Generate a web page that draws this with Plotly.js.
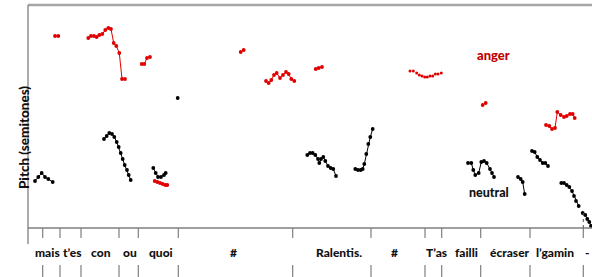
<!DOCTYPE html>
<html>
<head>
<meta charset="utf-8">
<script src="https://cdn.plot.ly/plotly-3.0.1.min.js"></script>
<style>html,body{margin:0;padding:0;background:#fff;}#chart{width:592px;height:277px;}</style>
</head>
<body>
<div id="chart"></div>
<script>
// Time (arbitrary units) and pitch (semitones); null separates voiced stretches
var angerT = [27,30.3,null,
  60.3,63,66,68.7,71.3,74.3,77.3,80.3,83,85.7,88.3,91.3,94,97,null,
  113.7,116.3,119,122,null,
  126.7,129.3,132,134.7,137.3,139.3,null,
  212.7,215.7,null,
  238,240.7,243.3,246,248.7,252,255,258,260.7,263.3,266.3,null,
  287.7,290.7,294,null,
  454.7,457.7,null,
  518,521.3,524,527,529.3,532.7,536,538.7,542,544.7,546.7];
var angerF = [19.2,19.2,null,
  19.0,19.2,19.2,19.1,19.3,19.4,19.8,20.0,19.9,18.5,18.2,17.5,14.9,14.9,null,
  16.4,16.4,17.0,17.1,null,
  4.7,4.6,4.5,4.4,4.3,4.3,null,
  17.6,17.8,null,
  14.7,14.5,14.8,15.3,15.5,15.0,15.3,15.6,15.4,14.9,14.7,null,
  15.9,16.0,16.1,null,
  12.3,12.5,null,
  10.3,10.2,9.9,10.0,11.6,11.3,11.1,11.2,11.4,11.4,11.0];
var angerDotT = [382,385.3,388.7,391.3,394,396.7,399.3,402,404.7,407.3,410,413.3];
var angerDotF = [15.7,15.7,15.5,15.3,15.2,15.1,15.1,15.2,15.2,15.4,15.4,15.5];

var neutralT = [7,10.3,13.7,17,20.3,24.7,null,
  76,78.7,81.3,84,86.3,88.7,90.7,92.7,94.7,96.7,99,100.7,102.7,null,
  125.3,127.7,130,133,136,137.7,null,
  149.7,null,
  279.3,282,284.7,287.3,290,291.3,293,295.3,297.3,300,302.7,305.3,308,null,
  327.3,330,332.7,334.7,336.3,338.3,340.3,342.3,344.7,null,
  440,443.3,445.3,447.3,450.7,453.3,456,458.7,462,464,466,null,
  490,492.7,494.7,496.7,null,
  504,506.7,509.3,512,514.7,517.3,520,null,
  533.3,536,538.7,541.3,544,546,548,550.7,null,
  554.7,557.3,559.3,561.3,563];
var neutralF = [4.7,5.1,5.5,5.1,4.9,4.6,null,
  8.9,9.2,9.5,9.4,9.1,8.6,8.1,7.5,6.9,6.3,5.8,5.3,4.8,null,
  6.0,5.5,5.1,5.1,5.3,5.5,null,
  13.0,null,
  7.3,7.5,7.5,7.3,6.9,6.5,6.9,7.1,6.7,6.2,6.0,5.9,5.2,null,
  5.9,5.8,5.8,5.9,6.4,7.4,8.4,9.1,9.9,null,
  6.5,6.5,5.8,5.3,5.5,6.6,6.7,6.5,5.9,5.5,5.1,null,
  5.1,4.9,4.6,3.4,null,
  7.7,7.6,7.1,6.8,6.5,6.5,6.2,null,
  4.5,4.5,4.3,4.1,3.7,3.2,2.7,2.2,null,
  1.5,1.3,0.9,0.6,0.2];

// Word boundaries and word labels
var boundaries = [14.7,32,53,91,110.3,150.3,264.7,343,397,413.7,452.7,502,555.3];
var words = ["mais","t\u2019es","con","ou","quoi","#","Ralentis.","#","T\u2019as","failli","\u00e9craser","l\u2019gamin","-"];
var wordPos = [19,44,73,102,133,205,311,366,408,438,482,527,559];

var RED = '#e00000';
var traces = [
  {x: angerT, y: angerF, mode: 'lines+markers', connectgaps: false,
   line: {color: RED, width: 1}, marker: {color: RED, size: 3.8}, hoverinfo: 'skip'},
  {x: angerDotT, y: angerDotF, mode: 'markers',
   marker: {color: RED, size: 3}, hoverinfo: 'skip'},
  {x: neutralT, y: neutralF, mode: 'lines+markers', connectgaps: false,
   line: {color: '#000', width: 1}, marker: {color: '#000', size: 3.8}, hoverinfo: 'skip'}
];

var H = 222; // plot height px
var shapes = [];
shapes.push({type: 'line', xref: 'paper', yref: 'paper', x0: 0, x1: 1.01, y0: 1.004, y1: 1.004,
  line: {color: '#a6a6a6', width: 2.5}});
shapes.push({type: 'line', xref: 'paper', yref: 'paper', x0: 0, x1: 0, y0: 1.004, y1: -16/H,
  line: {color: '#7f7f7f', width: 1.3}});
shapes.push({type: 'line', xref: 'paper', yref: 'paper', x0: 0, x1: 1.01, y0: 0, y1: 0,
  line: {color: '#7f7f7f', width: 1.3}});
boundaries.forEach(function (b) {
  shapes.push({type: 'line', xref: 'x', yref: 'paper', x0: b, x1: b, y0: 0, y1: -10/H,
    line: {color: '#7f7f7f', width: 1.2}});
  shapes.push({type: 'line', xref: 'x', yref: 'paper', x0: b, x1: b, y0: -37/H, y1: -50/H,
    line: {color: '#7f7f7f', width: 1.2}});
});
shapes.push({type: 'line', xref: 'x', yref: 'paper', x0: boundaries[12], x1: boundaries[12], y0: 0, y1: 16/H,
  line: {color: '#555', width: 1, dash: 'dot'}});

var FONT = 'Lato, "Open Sans", sans-serif';
var annotations = words.map(function (w, i) {
  return {x: wordPos[i], y: -24/H, xref: 'x', yref: 'paper', text: w,
    showarrow: false, font: {family: FONT, size: 12, color: '#111', weight: 900}, xanchor: 'center', yanchor: 'middle'};
});
annotations.push({x: 465, y: 17.3, xref: 'x', yref: 'y', text: 'anger', showarrow: false,
  font: {family: FONT, size: 13, color: '#c00000', weight: 900}});
annotations.push({x: 461, y: 3.6, xref: 'x', yref: 'y', text: 'neutral', showarrow: false,
  font: {family: FONT, size: 12.5, color: '#111', weight: 900}});
annotations.push({x: -14/564, y: 0.405, xref: 'paper', yref: 'paper', text: 'Pitch (semitones)',
  textangle: -90, showarrow: false, font: {family: FONT, size: 13.5, color: '#111', weight: 900}});

var layout = {
  width: 592, height: 277,
  margin: {l: 28, r: 0, t: 6, b: 49, pad: 0},
  paper_bgcolor: '#fff', plot_bgcolor: '#fff',
  showlegend: false,
  xaxis: {range: [0, 564], visible: false, fixedrange: true},
  yaxis: {range: [0, 22.2], showgrid: false, zeroline: false, showticklabels: false, ticks: '', showline: false, fixedrange: true},
  shapes: shapes,
  annotations: annotations
};
Plotly.newPlot('chart', traces, layout, {displayModeBar: false, staticPlot: true});
</script>
</body>
</html>
